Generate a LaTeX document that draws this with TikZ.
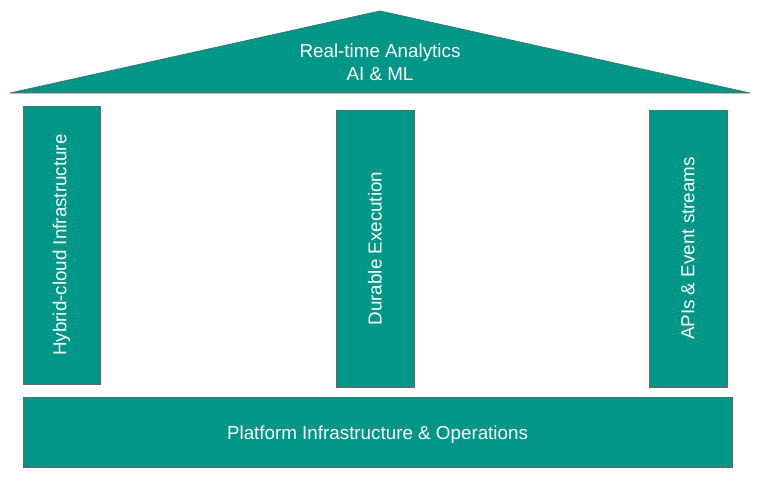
\documentclass[tikz,border=0pt]{standalone}
\usepackage{fontspec}
\setmainfont{Liberation Sans}
\definecolor{teal}{HTML}{009688}
\definecolor{edge}{HTML}{666666}
\begin{document}
\begin{tikzpicture}[x=1pt,y=-1pt,
  block/.style={fill=teal,draw=edge,line width=0.8pt},
  lbl/.style={text=white,font=\fontsize{18.8}{23}\selectfont,align=center}]
\useasboundingbox (0,0) rectangle (764,479);
\fill[white] (0,0) rectangle (764,479);
\draw[block,line join=bevel] (10,93) -- (380,11) -- (750,93) -- cycle;
\node[lbl] (roof) at (380,62) {Real-time Analytics\\AI \& ML};
\draw[block] (23,106) rectangle (100,384);
\node[lbl,rotate=90] (p1) at (61.5,245) {Hybrid-cloud Infrastructure};
\draw[block] (336,110) rectangle (414,387);
\node[lbl,rotate=90] (p2) at (375,248.5) {Durable Execution};
\draw[block] (649,110) rectangle (727,387);
\node[lbl,rotate=90] (p3) at (688,248.5) {APIs \& Event streams};
\draw[block] (23,397) rectangle (732,467);
\node[lbl] (base) at (377.5,435) {Platform Infrastructure \& Operations};
\end{tikzpicture}
\end{document}
